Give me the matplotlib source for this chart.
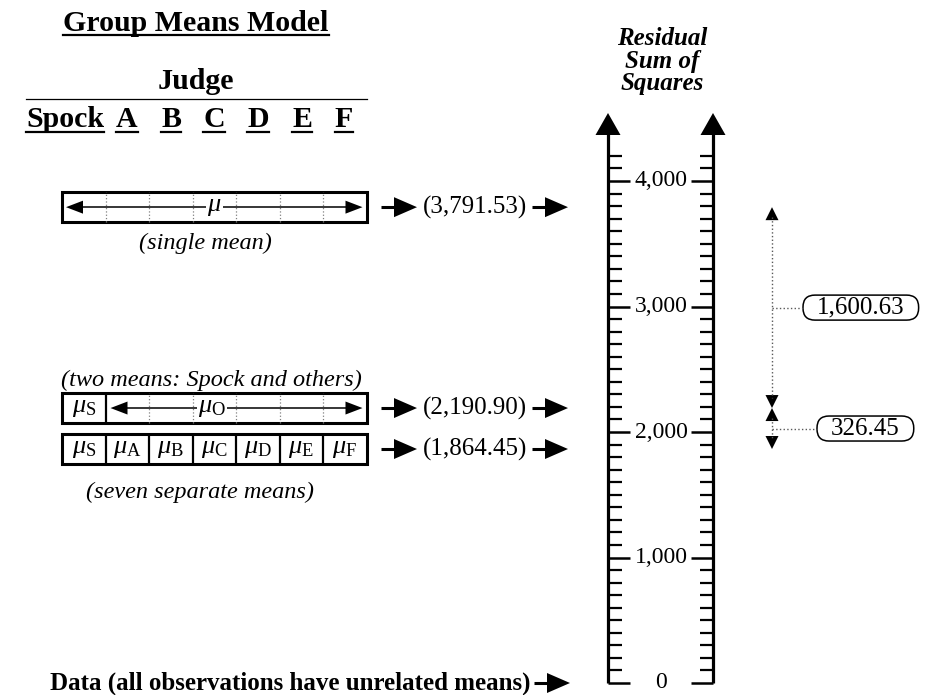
import matplotlib
matplotlib.use('Agg')
import matplotlib.pyplot as plt
from matplotlib.patches import Rectangle, Polygon, FancyBboxPatch
from matplotlib.transforms import IdentityTransform

plt.rcParams['font.family'] = ['Liberation Serif', 'DejaVu Serif']
plt.rcParams['mathtext.fontset'] = 'custom'
plt.rcParams['mathtext.rm'] = 'Liberation Serif'
plt.rcParams['mathtext.it'] = 'Liberation Serif:italic'

# ---- data -------------------------------------------------------------
judges = ['Spock', 'A', 'B', 'C', 'D', 'E', 'F']
model_notes = ['(single mean)', '(two means: Spock and others)', '(seven separate means)']
rss_values = [3791.53, 2190.90, 1864.45]       # residual SS of each model
rss_labels = ['(3,791.53)', '(2,190.90)', '(1,864.45)']
data_rss = 0.0                                  # saturated model (data)
rss_drops = [1600.63, 326.45]
drop_labels = ['1,600.63', '326.45']
major_ticks = [0, 1000, 2000, 3000, 4000]
major_labels = ['0', '1,000', '2,000', '3,000', '4,000']
minor_step = 100
scale_top = 4200
mu_labels = [r'$\mu_{\mathrm{S}}$', r'$\mu_{\mathrm{A}}$', r'$\mu_{\mathrm{B}}$',
             r'$\mu_{\mathrm{C}}$', r'$\mu_{\mathrm{D}}$', r'$\mu_{\mathrm{E}}$',
             r'$\mu_{\mathrm{F}}$']

# ---- layout (pixels) --------------------------------------------------
W, H = 935, 695
ZERO_PX = 683          # pixel row of SS = 0
PX_PER = 0.1255        # pixels per unit of SS


def u(px):             # pixel length -> SS units
    return px / PX_PER


def row(py):           # pixel row -> SS value
    return (ZERO_PX - py) / PX_PER


fig = plt.figure(figsize=(W / 100, H / 100), dpi=100)
ax = fig.add_axes([0, 0, 1, 1])
ax.set_xlim(0, W)
ax.set_ylim(row(H), row(0))
ax.axis('off')


def hhead(x_tip, y, length, half):
    ax.add_patch(Polygon([(x_tip, y), (x_tip - length, y + u(half)),
                          (x_tip - length, y - u(half))], closed=True,
                         color='k', lw=0))


def vhead(x, y_tip, length, half):
    # length > 0 points up, < 0 points down
    ax.add_patch(Polygon([(x, y_tip), (x - half, y_tip - u(length)),
                          (x + half, y_tip - u(length))], closed=True,
                         color='k', lw=0))


def row_arrow(x0, y):
    ax.plot([x0, x0 + 14], [y, y], color='k', lw=2.2, solid_capstyle='butt')
    hhead(x0 + 36, y, 23, 10)


# ---- header -----------------------------------------------------------
ul = []
t = ax.text(196, row(31), 'Group Means Model', ha='center', va='baseline',
            fontsize=21.5, fontweight='bold')
ul.append((t, 35))
ax.text(196, row(89), 'Judge', ha='center', va='baseline',
        fontsize=21.5, fontweight='bold')
ax.plot([26, 367], [row(99), row(99)], color='k', lw=0.9)
judge_x = [65, 127, 171, 214, 258, 302, 344]
for jx, name in zip(judge_x, judges):
    t = ax.text(jx, row(127), name, ha='center', va='baseline',
                fontsize=21.5, fontweight='bold')
    ul.append((t, 132))

# ---- model boxes ------------------------------------------------------
BX0, NCELL, CELL = 62, len(judges), 43.5
BX1 = BX0 + NCELL * CELL
edges = [BX0 + i * CELL for i in range(NCELL + 1)]
BH = 30
MU_FS = 19
NOTE_FS = 17.5

# single mean
v = rss_values[0]
ax.vlines(edges[1:-1], v - u(BH / 2), v + u(BH / 2), colors='0.5',
          linestyles=':', lw=0.9)
ax.plot([BX0 + 10, BX1 - 10], [v, v], color='k', lw=1.1)
hhead(BX0 + 4, v, -17, 6.5)
hhead(BX1 - 4, v, 17, 6.5)
ax.text((BX0 + BX1) / 2, v, r'$\mu$', ha='center', va='center', fontsize=MU_FS,
        bbox=dict(facecolor='white', edgecolor='none', pad=1))
ax.add_patch(Rectangle((BX0, v - u(BH / 2)), BX1 - BX0, u(BH), fill=False,
                       lw=2.2, ec='k'))
ax.text(205, row(243), model_notes[0], ha='center', va='center',
        fontsize=NOTE_FS, style='italic')

# two means
v = rss_values[1]
ax.text(211, row(380), model_notes[1], ha='center', va='center',
        fontsize=NOTE_FS, style='italic')
ax.vlines(edges[2:-1], v - u(BH / 2), v + u(BH / 2), colors='0.5',
          linestyles=':', lw=0.9)
ax.vlines(edges[1], v - u(BH / 2), v + u(BH / 2), colors='k', lw=1.6)
ax.plot([edges[1] + 12, BX1 - 10], [v, v], color='k', lw=1.1)
hhead(edges[1] + 5, v, -17, 6.5)
hhead(BX1 - 4, v, 17, 6.5)
ax.text((edges[0] + edges[1]) / 2, v, mu_labels[0], ha='center', va='center',
        fontsize=MU_FS)
ax.text(212, v, r'$\mu_{\mathrm{O}}$', ha='center', va='center', fontsize=MU_FS,
        bbox=dict(facecolor='white', edgecolor='none', pad=1))
ax.add_patch(Rectangle((BX0, v - u(BH / 2)), BX1 - BX0, u(BH), fill=False,
                       lw=2.2, ec='k'))

# seven means
v = rss_values[2]
ax.vlines(edges[1:-1], v - u(BH / 2), v + u(BH / 2), colors='k', lw=1.6)
for i, lab in enumerate(mu_labels):
    ax.text((edges[i] + edges[i + 1]) / 2, v, lab, ha='center', va='center',
            fontsize=MU_FS)
ax.add_patch(Rectangle((BX0, v - u(BH / 2)), BX1 - BX0, u(BH), fill=False,
                       lw=2.2, ec='k'))
ax.text(200, row(492), model_notes[2], ha='center', va='center',
        fontsize=NOTE_FS, style='italic')

# arrows to the scale
for v, lab in zip(rss_values, rss_labels):
    row_arrow(381, v)
    ax.text(475, v, lab, ha='center', va='center', fontsize=18)
    row_arrow(532, v)
ax.text(530, data_rss, 'Data (all observations have unrelated means)',
        ha='right', va='center', fontsize=18, fontweight='bold')
row_arrow(534, data_rss)

# ---- RSS scale --------------------------------------------------------
AL, AR = 608, 713
for t_, s in [(45, 'Residual'), (68, 'Sum of'), (90, 'Squares')]:
    ax.text(662, row(t_), s, ha='center', va='baseline', fontsize=18,
            fontweight='bold', style='italic')
for xa in (AL, AR):
    ax.plot([xa, xa], [0, row(133)], color='k', lw=2.3, solid_capstyle='butt')
    vhead(xa, row(113), 22, 12.5)

minor = [t_ for t_ in range(0, scale_top + 1, minor_step) if t_ not in major_ticks]
ax.hlines(minor, AL, AL + 14, colors='k', lw=1.6)
ax.hlines(minor, AR - 13, AR, colors='k', lw=1.6)
ax.hlines(major_ticks, AL, AL + 22, colors='k', lw=1.8)
ax.hlines(major_ticks, AR - 22, AR, colors='k', lw=1.8)
for mt, ml in zip(major_ticks, major_labels):
    ax.text(661, mt, ml, ha='center', va='center', fontsize=17,
            bbox=dict(facecolor='white', edgecolor='none', pad=0.5))

# ---- drops between models ---------------------------------------------
BRX = 772
drop_boxes = []
for i, (d, lab) in enumerate(zip(rss_drops, drop_labels)):
    top, bot = rss_values[i], rss_values[i + 1]
    ax.plot([BRX, BRX], [top - u(10), bot + u(10)], color='0.35', lw=1,
            linestyle=':')
    vhead(BRX, top, 13, 6.5)
    vhead(BRX, bot, -13, 6.5)
    mid = (top + bot) / 2
    bx = [803, 817][i]
    ax.plot([BRX, bx], [mid, mid], color='0.35', lw=1, linestyle=':')
    t = ax.text(bx + 14, mid, lab, ha='left', va='center', fontsize=18)
    drop_boxes.append((t, bx))

# underlines and rounded label boxes need text extents
fig.canvas.draw()
r = fig.canvas.get_renderer()
for t, py in ul:
    bb = t.get_window_extent(r)
    ax.plot([bb.x0, bb.x1], [row(py), row(py)], color='k', lw=1.6,
            transform=ax.transData)
for t, bx in drop_boxes:
    bb = t.get_window_extent(r)
    left = ax.transData.transform((bx, 0))[0]
    cy = (bb.y0 + bb.y1) / 2
    w = (bb.x1 - left) + 14
    h = 25
    ax.add_patch(FancyBboxPatch((left, cy - h / 2), w, h,
                                boxstyle='round,pad=0,rounding_size=12',
                                transform=IdentityTransform(), fc='none',
                                ec='k', lw=1.1))

fig.savefig('out.png', dpi=100, facecolor='white')
